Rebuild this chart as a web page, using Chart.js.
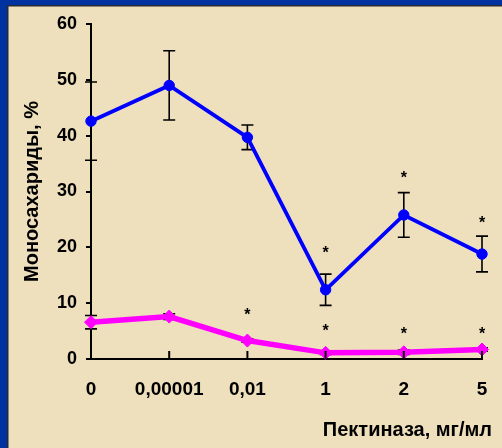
<!DOCTYPE html>
<html>
<head>
<meta charset="utf-8">
<script src="https://cdn.jsdelivr.net/npm/chart.js@4/dist/chart.umd.min.js"></script>
<style>
html,body{margin:0;padding:0;background:#eee0bd;}
#wrap{width:502px;height:448px;position:relative;}
canvas{display:block;}
</style>
</head>
<body>
<div id="wrap"><canvas id="c" width="502" height="448"></canvas></div>
<script>
const categories = ['0', '0,00001', '0,01', '1', '2', '5'];
const blueValues = [42.6, 49.0, 39.7, 12.4, 25.8, 18.8];
const blueErrors = [7.0, 6.2, 2.2, 2.8, 4.0, 3.2];
const magentaValues = [6.6, 7.6, 3.3, 1.1, 1.2, 1.7];
const magentaErrors = [1.2, 0.5, 0.3, 0.3, 0.4, 0.3];
const blueStars = [null, null, null, 19.5, 32.9, 24.7];
const magentaStars = [null, null, 8.4, 5.4, 4.9, 4.9];
const yTicks = [0, 10, 20, 30, 40, 50, 60];
const yTitle = 'Моносахариды, %';
const xTitle = 'Пектиназа, мг/мл';

const FONT = "'Liberation Sans', Arial, sans-serif";

const framePlugin = {
  id: 'frame',
  beforeDraw(chart) {
    const ctx = chart.ctx;
    const w = chart.width, h = chart.height;
    ctx.save();
    ctx.fillStyle = '#eee0bd';
    ctx.fillRect(0, 0, w, h);
    ctx.fillStyle = '#0033a0';
    ctx.fillRect(0, 0, w, 5);
    ctx.fillRect(0, 0, 7, h);
    ctx.fillStyle = '#2a2a33';
    ctx.fillRect(7, 5, w - 7, 1.5);
    ctx.fillRect(7, 5, 1.5, h - 5);
    ctx.restore();
  }
};

const errorBarPlugin = {
  id: 'errorBars',
  beforeDatasetsDraw(chart) {
    const ctx = chart.ctx;
    const xs = chart.scales.x, ys = chart.scales.y;
    const sets = [[blueValues, blueErrors], [magentaValues, magentaErrors]];
    ctx.save();
    ctx.strokeStyle = '#000';
    ctx.lineWidth = 1.6;
    sets.forEach(([vals, errs]) => {
      vals.forEach((v, i) => {
        const x = xs.getPixelForValue(i);
        const yt = ys.getPixelForValue(v + errs[i]);
        const yb = ys.getPixelForValue(v - errs[i]);
        ctx.beginPath();
        ctx.moveTo(x, yt); ctx.lineTo(x, yb);
        ctx.moveTo(x - 6, yt); ctx.lineTo(x + 6, yt);
        ctx.moveTo(x - 6, yb); ctx.lineTo(x + 6, yb);
        ctx.stroke();
      });
    });
    ctx.restore();
  }
};

const decorPlugin = {
  id: 'decor',
  afterDraw(chart) {
    const ctx = chart.ctx;
    const xs = chart.scales.x, ys = chart.scales.y;
    const area = chart.chartArea;
    ctx.save();
    ctx.strokeStyle = '#000';
    ctx.lineWidth = 2;
    categories.forEach((c, i) => {
      if (i === 0) return;
      const x = xs.getPixelForValue(i);
      ctx.beginPath();
      ctx.moveTo(x, area.bottom);
      ctx.lineTo(x, area.bottom - 8);
      ctx.stroke();
    });
    ctx.fillStyle = '#000';
    ctx.font = 'bold 16px ' + FONT;
    ctx.textAlign = 'center';
    ctx.textBaseline = 'middle';
    [blueStars, magentaStars].forEach(arr => {
      arr.forEach((v, i) => {
        if (v === null) return;
        ctx.fillText('*', xs.getPixelForValue(i), ys.getPixelForValue(v) + 3);
      });
    });
    ctx.font = 'bold 20px ' + FONT;
    ctx.textAlign = 'right';
    ctx.textBaseline = 'middle';
    ctx.fillText(xTitle, area.right + 10, 430);
    ctx.restore();
  }
};

new Chart(document.getElementById('c'), {
  type: 'line',
  data: {
    labels: categories,
    datasets: [
      {
        data: blueValues,
        borderColor: '#0000ff',
        backgroundColor: '#0000ff',
        borderWidth: 3.8,
        pointRadius: 5.2,
        pointBackgroundColor: '#0000ff',
        pointBorderColor: '#0000ff',
        pointBorderWidth: 1,
        tension: 0,
        clip: false
      },
      {
        data: magentaValues,
        borderColor: '#ff00ff',
        backgroundColor: '#ff00ff',
        borderWidth: 5.5,
        pointStyle: 'rectRot',
        pointRadius: 6.5,
        pointBackgroundColor: '#ff00ff',
        pointBorderColor: '#ff00ff',
        pointBorderWidth: 1,
        tension: 0,
        clip: false
      }
    ]
  },
  options: {
    responsive: false,
    animation: false,
    devicePixelRatio: 1,
    layout: { padding: { left: 0, right: 20, top: 24, bottom: 0 } },
    plugins: { legend: { display: false }, tooltip: { enabled: false } },
    scales: {
      x: {
        type: 'category',
        offset: false,
        grid: { drawOnChartArea: false, drawTicks: false, color: '#000' },
        border: { color: '#000', width: 2 },
        ticks: { color: '#000', font: { family: FONT, size: 19, weight: 'bold' }, padding: 19, maxRotation: 0, autoSkip: false },
        afterFit(s) { s.height = 89; s.paddingRight = 0; s.paddingLeft = 0; }
      },
      y: {
        min: 0, max: 60,
        afterBuildTicks(s) { s.ticks = yTicks.map(v => ({ value: v })); },
        grid: { drawOnChartArea: false, drawTicks: true, tickLength: 5, color: '#000', lineWidth: 2 },
        border: { color: '#000', width: 2 },
        ticks: { color: '#000', font: { family: FONT, size: 18, weight: 'bold' }, padding: 9 },
        title: { display: true, text: yTitle, color: '#000', font: { family: FONT, size: 20, weight: 'bold' }, padding: { top: 20, bottom: 0 } },
        afterFit(s) { s.width = 91; s.paddingTop = 0; s.paddingBottom = 0; }
      }
    }
  },
  plugins: [framePlugin, errorBarPlugin, decorPlugin]
});
</script>
</body>
</html>
